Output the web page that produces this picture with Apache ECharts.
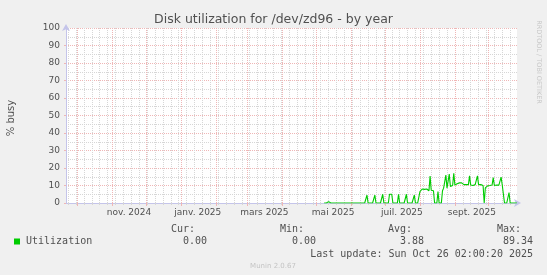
<!DOCTYPE html>
<html><head><meta charset="utf-8">
<script src="https://cdn.jsdelivr.net/npm/echarts@6/dist/echarts.min.js"></script>
<style>html,body{margin:0;padding:0;background:#f0f0f0}#c{width:547px;height:275px}</style>
</head><body><div id="c"></div>
<script>
const DAY = 86400000;
const rangeStart = '2024-09-21T02:00:20Z';
const rangeEnd = '2025-10-26T02:00:20Z';
const dataStart = '2025-05-08';
// daily utilization (% busy), May 8 2025 .. Oct 26 2025
const mayValues = [0,0,0,0,0.8,0,0,0,0,0,0,0,0,0,0,0,0,0,0,0,0,0,0,0];
const junValues = [0,0,0,0,0,0,0,0,0,0,0,0,0,0,4.5,0,0,0,0,0,0,4.5,0,0,0,0,0,0,5,0];
const julValues = [0,0,0,0,5,4,5,0,0,0,0,0,5,0,0,0,0,0,0,5,0,0,0,0,0,0,4.5,0,0,0,0];
const augValues = [6.5,7.5,8,7.5,7.8,7.2,8,7.5,7,15.4,7.3,7,7,0,0,0,6.5,0,0,0,7,8.5,8.5,16,8.5,9.5,16.5,9.5,10,10,17];
const sepValues = [10.3,10.5,11,10.5,11.5,10.5,11.5,10.5,10.5,10,10.5,10.3,10.5,15.5,10.3,10.5,10,10.3,10.5,10.5,15.5,10.5,10.3,10.5,10,10,0,8.6,9.5,9.8];
const octValues = [10,10,9.8,10.3,14.5,10,10,10.3,10,10.2,10.5,14.8,10.3,10,0,0,0,0,6,0,0,0,0,0,0,0];
const utilization = [].concat(mayValues, junValues, julValues, augValues, sepValues, octValues);

const yTicks = [0,10,20,30,40,50,60,70,80,90,100];
const monthStarts = ['2024-10-01','2024-11-01','2024-12-01','2025-01-01','2025-02-01','2025-03-01','2025-04-01','2025-05-01','2025-06-01','2025-07-01','2025-08-01','2025-09-01','2025-10-01'];
const tickLabels = ['nov. 2024','janv. 2025','mars 2025','mai 2025','juil. 2025','sept. 2025'];
const tickLabelDates = ['2024-11-16','2025-01-16','2025-03-16','2025-05-16','2025-07-16','2025-09-16'];
const firstMonday = '2024-09-23';
const legendName = 'Utilization';
const legendStats = {cur:'0.00', min:'0.00', avg:'3.88', max:'89.34'};
const lastUpdate = 'Last update: Sun Oct 26 02:00:20 2025';

const ts = s => Date.parse(s.length === 10 ? s + 'T00:00:00Z' : s);
const t0 = ts(rangeStart), t1 = ts(rangeEnd), d0 = ts(dataStart);
const seriesData = utilization.map((v, i) => [d0 + i * DAY, v]);
const weekLines = [];
for (let t = ts(firstMonday); t < t1; t += 7 * DAY) weekLines.push(t);
const monthLines = monthStarts.map(ts);
const labelTimes = tickLabelDates.map(ts);

const AX = '#c4c4ea', TXT = '#505050', RED = '#efb6b6', GREY = '#d6d6d6';
const chart = echarts.init(document.getElementById('c'), null, {renderer: 'canvas'});
const mono = '"DejaVu Sans Mono", monospace';
const sans = '"DejaVu Sans", sans-serif';
chart.setOption({
  backgroundColor: '#f0f0f0',
  animation: false,
  grid: {left: 66, top: 28, width: 451, height: 175, show: true, backgroundColor: '#ffffff', borderWidth: 0},
  xAxis: [{
    type: 'value', min: t0, max: t1, position: 'bottom', scale: true,
    axisLine: {show: true, lineStyle: {color: AX, width: 1}, symbol: ['none', 'arrow'], symbolSize: [6, 7], symbolOffset: [0, 4]},
    axisTick: {show: true, customValues: weekLines, length: 2, lineStyle: {color: GREY}},
    splitLine: {show: true, lineStyle: {color: GREY, type: [1, 1], width: 1}},
    axisLabel: {show: false}
  }, {
    type: 'value', min: t0, max: t1, position: 'bottom', scale: true,
    axisLine: {show: false},
    axisTick: {show: true, customValues: monthLines, length: 3, lineStyle: {color: RED}},
    splitLine: {show: true, lineStyle: {color: RED, type: [1, 1], width: 1}},
    axisLabel: {show: true, customValues: labelTimes, margin: 5, fontSize: 9, fontFamily: sans, color: TXT,
      formatter: v => { const i = labelTimes.indexOf(v); return i >= 0 ? tickLabels[i] : ''; }}
  }],
  yAxis: {
    type: 'value', min: 0, max: 100, interval: 10,
    axisLine: {show: true, lineStyle: {color: AX}, symbol: ['none', 'arrow'], symbolSize: [6, 7], symbolOffset: [0, 4]},
    axisTick: {show: true, length: 2, lineStyle: {color: RED}},
    axisLabel: {margin: 6, fontSize: 9, fontFamily: sans, color: TXT,
      formatter: v => yTicks.indexOf(v) >= 0 ? String(v) : ''},
    splitLine: {show: true, lineStyle: {color: RED, type: [1, 1]}},
    minorTick: {show: false, splitNumber: 2},
    minorSplitLine: {show: true, lineStyle: {color: GREY, type: [1, 1]}}
  },
  series: [{
    type: 'line', name: legendName, data: seriesData, xAxisIndex: 0, showSymbol: false, symbol: 'none',
    lineStyle: {color: '#00cc00', width: 1.1}, itemStyle: {color: '#00cc00'}, z: 5
  }],
  graphic: [
    {type: 'text', x: 273.5, y: 20, style: {text: 'Disk utilization for /dev/zd96 - by year', font: '12.5px ' + sans, fill: TXT, textAlign: 'center', textVerticalAlign: 'middle'}},
    {type: 'text', x: 11, y: 118, rotation: Math.PI / 2, style: {text: '% busy', font: '10px ' + sans, fill: TXT, textAlign: 'center', textVerticalAlign: 'middle'}},
    {type: 'text', x: 539, y: 62, rotation: -Math.PI / 2, style: {text: 'RRDTOOL / TOBI OETIKER', font: '6.5px ' + sans, fill: '#c8c8c8', textAlign: 'center', textVerticalAlign: 'middle'}},
    {type: 'rect', shape: {x: 14, y: 238.5, width: 6, height: 6}, style: {fill: '#00cc00'}},
    {type: 'text', x: 26, y: 241.5, style: {text: legendName, font: '10px ' + mono, fill: TXT, textVerticalAlign: 'middle'}},
    {type: 'text', x: 171, y: 229, style: {text: 'Cur:', font: '10px ' + mono, fill: TXT, textVerticalAlign: 'middle'}},
    {type: 'text', x: 280, y: 229, style: {text: 'Min:', font: '10px ' + mono, fill: TXT, textVerticalAlign: 'middle'}},
    {type: 'text', x: 388, y: 229, style: {text: 'Avg:', font: '10px ' + mono, fill: TXT, textVerticalAlign: 'middle'}},
    {type: 'text', x: 497, y: 229, style: {text: 'Max:', font: '10px ' + mono, fill: TXT, textVerticalAlign: 'middle'}},
    {type: 'text', x: 207, y: 241.5, style: {text: legendStats.cur, font: '10px ' + mono, fill: TXT, textAlign: 'right', textVerticalAlign: 'middle'}},
    {type: 'text', x: 316, y: 241.5, style: {text: legendStats.min, font: '10px ' + mono, fill: TXT, textAlign: 'right', textVerticalAlign: 'middle'}},
    {type: 'text', x: 424, y: 241.5, style: {text: legendStats.avg, font: '10px ' + mono, fill: TXT, textAlign: 'right', textVerticalAlign: 'middle'}},
    {type: 'text', x: 533, y: 241.5, style: {text: legendStats.max, font: '10px ' + mono, fill: TXT, textAlign: 'right', textVerticalAlign: 'middle'}},
    {type: 'text', x: 533, y: 254, style: {text: lastUpdate, font: '10px ' + mono, fill: TXT, textAlign: 'right', textVerticalAlign: 'middle'}},
    {type: 'text', x: 273, y: 266.5, style: {text: 'Munin 2.0.67', font: '7px ' + sans, fill: '#c4c4c4', textAlign: 'center', textVerticalAlign: 'middle'}}
  ]
});
</script></body></html>
